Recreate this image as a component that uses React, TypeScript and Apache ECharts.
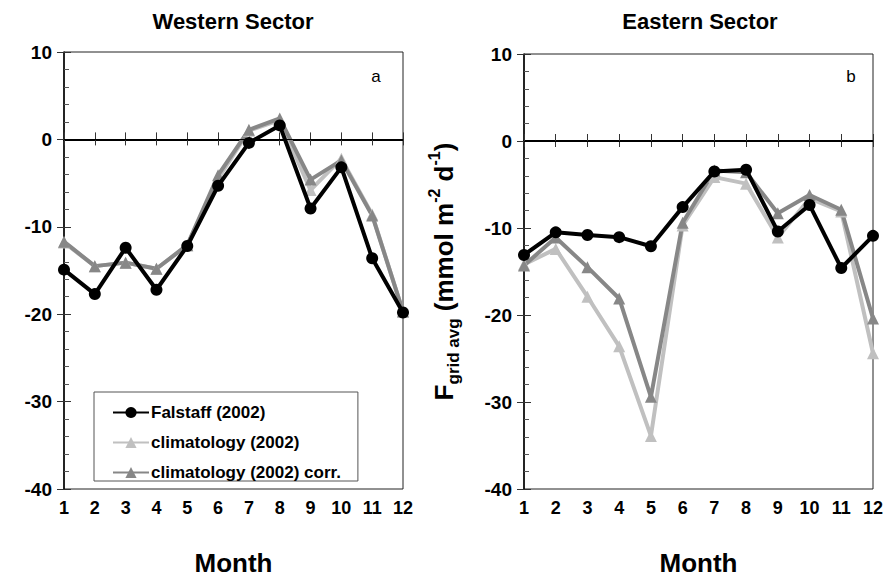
import React, { useEffect, useRef } from "react";
import * as echarts from "echarts";

const months = ["1", "2", "3", "4", "5", "6", "7", "8", "9", "10", "11", "12"];

const westFalstaff = [-14.9, -17.7, -12.4, -17.2, -12.2, -5.3, -0.4, 1.6, -7.9, -3.2, -13.6, -19.8];
const westClim = [-11.8, -14.5, -14.1, -14.8, -12.1, -4.5, 1.0, 2.2, -5.8, -2.2, -8.6, -19.7];
const westCorr = [-11.7, -14.5, -14.1, -14.8, -12.1, -4.1, 1.1, 2.4, -4.6, -2.4, -8.7, -19.7];

const eastFalstaff = [-13.1, -10.5, -10.8, -11.05, -12.1, -7.6, -3.5, -3.3, -10.4, -7.35, -14.6, -10.9];
const eastClim = [-14.2, -12.4, -17.9, -23.6, -33.9, -9.7, -4.15, -4.9, -11.1, -6.6, -8.1, -24.4];
const eastCorr = [-14.3, -11.1, -14.5, -18.1, -29.4, -9.4, -3.4, -3.6, -8.3, -6.2, -7.9, -20.4];

const yTicks = { min: -40, max: 10, interval: 10 };

const names = ["Falstaff (2002)", "climatology (2002)", "climatology (2002) corr."];
const colors = ["#000000", "#c0c0c0", "#878787"];

const FONT = "Liberation Sans, Arial, sans-serif";

export default function App() {
  const ref = useRef<HTMLDivElement>(null);
  useEffect(() => {
    const chart = echarts.init(ref.current!, null, { renderer: "svg" });

    const mkX = (gi: number) => ({
      type: "category",
      gridIndex: gi,
      data: months,
      boundaryGap: false,
      axisLine: { lineStyle: { color: "#000", width: 2 } },
      axisTick: { show: true, length: 6, lineStyle: { color: "#333", width: 1 } },
      axisLabel: { color: "#000", fontSize: 18, fontWeight: "bold", fontFamily: FONT, margin: 10 },
      name: "Month",
      nameLocation: "middle",
      nameGap: 61,
      nameTextStyle: { color: "#000", fontSize: 26, fontWeight: "bold", fontFamily: FONT },
      splitLine: { show: false },
    });

    const mkXInner = (gi: number) => ({
      type: "category",
      gridIndex: gi,
      data: months,
      boundaryGap: false,
      position: "bottom",
      axisLine: { show: false },
      axisTick: { show: true, inside: true, length: 7, lineStyle: { color: "#333", width: 1 } },
      axisLabel: { show: false },
      splitLine: { show: false },
    });

    const mkY = (gi: number, withName: boolean) => ({
      type: "value",
      gridIndex: gi,
      min: yTicks.min,
      max: yTicks.max,
      interval: yTicks.interval,
      axisLine: { show: true, lineStyle: { color: "#000", width: 1.5 } },
      axisTick: { show: true, length: 7, lineStyle: { color: "#333", width: 1 } },
      axisLabel: { color: "#000", fontSize: 19, fontWeight: "bold", fontFamily: FONT, margin: 12 },
      splitLine: { show: false },
      ...(withName
        ? {
            name: "{big|F}{sub|grid avg}{big| (mmol m}{sup|-2}{big| d}{sup|-1}{big|)}",
            nameLocation: "middle",
            nameGap: 62,
            nameRotate: 90,
            nameTextStyle: {
              rich: {
                big: { fontSize: 26, fontWeight: "bold", fontFamily: FONT, color: "#000", lineHeight: 36, verticalAlign: "middle" },
                sub: { fontSize: 17, fontWeight: "bold", fontFamily: FONT, color: "#000", lineHeight: 36, verticalAlign: "bottom", padding: [13, 0, 0, 0] },
                sup: { fontSize: 16, fontWeight: "bold", fontFamily: FONT, color: "#000", lineHeight: 36, verticalAlign: "top", padding: [0, 0, 13, 0] },
              },
            },
          }
        : {}),
    });

    const mkYInner = (gi: number) => ({
      type: "value",
      gridIndex: gi,
      min: yTicks.min,
      max: yTicks.max,
      interval: yTicks.interval,
      position: "left",
      axisLine: { show: false },
      axisTick: { show: true, inside: true, length: 7, lineStyle: { color: "#333", width: 1 } },
      minorTick: { show: true, splitNumber: 5, length: 5, lineStyle: { color: "#555", width: 1 } },
      axisLabel: { show: false },
      splitLine: { show: false },
    });

    const mkSeries = (gi: number, data: number[][]) => {
      const order = [1, 2, 0];
      return order.map((k) => ({
        type: "line",
        name: names[k],
        xAxisIndex: gi,
        yAxisIndex: gi,
        data: data[k],
        symbol: k === 0 ? "circle" : "triangle",
        symbolSize: 12,
        lineStyle: { color: colors[k], width: 4 },
        itemStyle: { color: colors[k] },
        z: k === 0 ? 5 : 3,
        ...(k === 1
          ? {
              markLine: {
                silent: true,
                symbol: "none",
                label: { show: false },
                lineStyle: { color: "#000", width: 1, type: "solid" },
                data: [{ yAxis: 0 }],
              },
            }
          : {}),
      }));
    };

    chart.setOption({
      animation: false,
      backgroundColor: "#fff",
      textStyle: { fontFamily: FONT },
      grid: [
        { left: 64, top: 52, width: 339, height: 442, show: true, borderColor: "#222", borderWidth: 1, backgroundColor: "transparent" },
        { left: 524, top: 54, width: 349, height: 442, show: true, borderColor: "#222", borderWidth: 1, backgroundColor: "transparent" },
      ],
      xAxis: [mkX(0), mkX(1), mkXInner(0), mkXInner(1)],
      yAxis: [mkY(0, false), mkY(1, true), mkYInner(0), mkYInner(1)],
      legend: {
        data: names,
        orient: "vertical",
        left: 94,
        top: 392,
        itemWidth: 36,
        itemHeight: 14,
        itemGap: 13,
        padding: [12, 17, 0, 18],
        backgroundColor: "#fff",
        borderColor: "#555",
        borderWidth: 1,
        textStyle: { color: "#000", fontSize: 17, fontWeight: "bold", fontFamily: FONT, padding: [0, 0, 0, -3] },
      },
      series: [...mkSeries(0, [westFalstaff, westClim, westCorr]), ...mkSeries(1, [eastFalstaff, eastClim, eastCorr])],
      graphic: [
        { type: "text", x: 233, y: 21, style: { text: "Western Sector", font: `bold 22px ${FONT}`, fill: "#000", textAlign: "center", textVerticalAlign: "middle" } },
        { type: "text", x: 700, y: 21, style: { text: "Eastern Sector", font: `bold 22px ${FONT}`, fill: "#000", textAlign: "center", textVerticalAlign: "middle" } },
        { type: "text", x: 376, y: 76, style: { text: "a", font: `17px ${FONT}`, fill: "#000", textAlign: "center", textVerticalAlign: "middle" } },
        { type: "text", x: 851, y: 76, style: { text: "b", font: `17px ${FONT}`, fill: "#000", textAlign: "center", textVerticalAlign: "middle" } },
      ],
    });
    return () => chart.dispose();
  }, []);
  return <div ref={ref} style={{ width: 888, height: 581, position: "absolute", left: 0, top: 0 }} />;
}
